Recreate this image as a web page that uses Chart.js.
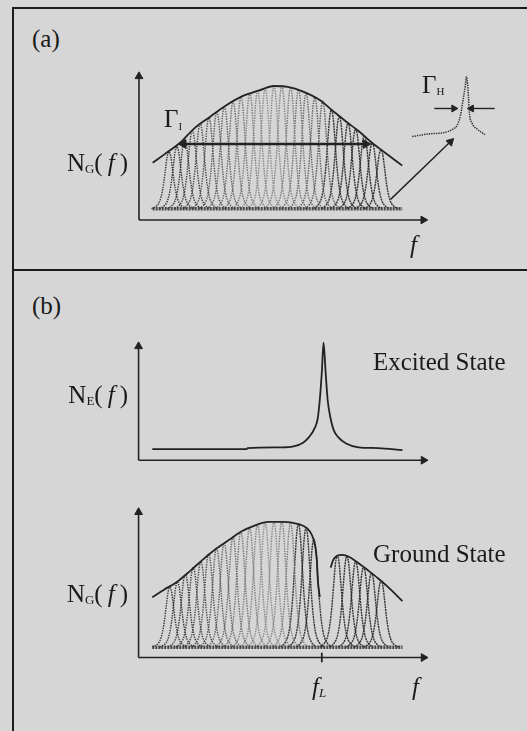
<!DOCTYPE html>
<html>
<head>
<meta charset="utf-8">
<script src="https://cdn.jsdelivr.net/npm/chart.js@4.4.1/dist/chart.umd.min.js"></script>
<style>
body { margin: 0; width: 527px; height: 731px; overflow: hidden; position: relative;
       background: #d6d6d6; font-family: "Liberation Serif", "Times New Roman", serif; color: #1a1a1a; }
canvas { position: absolute; }
.t { position: absolute; font-size: 25px; line-height: 1; white-space: nowrap; }
.sub { font-size: 13px; position: relative; top: 2px; }
.rule { position: absolute; background: #1c1c1c; }
</style>
</head>
<body>
<div class="rule" style="left:12px;top:7px;width:2px;height:724px"></div>
<div class="rule" style="left:12px;top:7px;width:515px;height:2px"></div>
<div class="rule" style="left:12px;top:269px;width:515px;height:2px"></div>

<canvas id="chartA"></canvas>
<canvas id="chartExc"></canvas>
<canvas id="chartGnd"></canvas>

<div class="t" style="left:32px;top:26px">(a)</div>
<div class="t" style="right:399px;top:150px">N<span class="sub">G</span>(&thinsp;<i>f</i>&thinsp;)</div>
<div class="t" style="left:164px;top:106px">Γ<span class="sub" style="font-size:11px;top:3px">I</span></div>
<div class="t" style="left:422px;top:72px">Γ<span class="sub" style="font-size:11px;top:2px">H</span></div>
<div class="t" style="left:410px;top:232px"><i>f</i></div>

<div class="t" style="left:32px;top:293px">(b)</div>
<div class="t" style="right:399px;top:382px">N<span class="sub">E</span>(&thinsp;<i>f</i>&thinsp;)</div>
<div class="t" style="left:373px;top:349px">Excited State</div>
<div class="t" style="right:399px;top:581px">N<span class="sub">G</span>(&thinsp;<i>f</i>&thinsp;)</div>
<div class="t" style="left:373px;top:541px">Ground State</div>
<div class="t" style="left:312px;top:674px"><i>f</i><span class="sub" style="font-style:italic">L</span></div>
<div class="t" style="left:412px;top:674px"><i>f</i></div>

<script>
// (a) inhomogeneous envelope N_G(f)
const envA_f = [4.7, 8.7, 14.3, 18.7, 24.3, 29.7, 35.3, 41, 46.3, 51, 56.3, 62, 66.3, 71, 75.3, 79.7, 84.3, 90.3];
const envA_n = [38.6, 44.3, 52.5, 61.4, 69.6, 77.2, 83.5, 87.3, 90.5, 89.9, 86.7, 81, 74, 66.5, 60.1, 52.5, 45.6, 36.7];
const baseA = 7.6;

// (a) homogeneous packets: centre frequency and peak height
const peakA_f = [10.3, 13, 15.7, 18.3, 21, 24, 26.7, 29.3, 32.3, 35, 38, 40.7, 43.3, 46.3, 49, 52, 54.7, 57.3, 60.3, 63, 66, 68.7, 71.7, 74.3, 77.3, 80, 83];
const peakA_n = [46, 49.5, 54.5, 60.5, 65, 69, 73, 76.5, 80, 83, 85.5, 87, 88.8, 90.3, 90.3, 89.6, 88, 85.8, 82.7, 80, 74.5, 70, 65.5, 61.5, 57, 52, 47.5];

// single homogeneous line shape (offset in f, fraction of height)
const lineOffset = [-6, -4.5, -3.6, -3, -2.4, -1.8, -1.2, -0.6, 0, 0.6, 1.2, 1.8, 2.4, 3, 3.6, 4.5, 6];
const lineShape  = [0, 0.04, 0.09, 0.16, 0.28, 0.46, 0.7, 0.92, 1, 0.92, 0.7, 0.46, 0.28, 0.16, 0.09, 0.04, 0];

// (a) enlarged single line (inset)
const insetF = [93.7, 99.7, 104.3, 107.7, 109.3, 110.3, 111, 112, 112.3, 112.7, 113, 113.3, 114.3, 116, 117.7, 118.7];
const insetN = [56.3, 58.2, 58.9, 61.4, 64.6, 70.9, 79.1, 91.8, 96.8, 91.8, 83.5, 72.8, 65.2, 61.4, 58.9, 57.6];

// (b) excited state N_E(f)
const excF = [4.7, 37, 37.3, 48.7, 53, 56.3, 58.3, 60.3, 61.3, 62, 62.7, 63.3, 64, 64.7, 65.7, 66.7, 68.3, 71, 75.3, 82, 90.3];
const excN = [9.4, 9.4, 10.2, 10.9, 11.7, 14.8, 19.5, 27.3, 35.2, 50.8, 74.2, 99.2, 74.2, 50.8, 35.2, 25.8, 19.5, 14.1, 10.9, 10.2, 8.6];

// (b) ground state with hole at f_L
const gndL_f = [4.7, 8.7, 13, 17.7, 22, 26.3, 31, 35.3, 39.7, 44.3, 49.7, 54.3, 57.7, 59.3, 60.3, 61, 61.3, 62];
const gndL_n = [40.3, 45.3, 50.3, 57.9, 65.4, 72.3, 78.6, 84.3, 88.1, 90.6, 90.6, 89.3, 86.2, 81.8, 75.5, 65.4, 52.8, 40.3];
const gndR_f = [65.7, 66.7, 68, 69.7, 72, 75.3, 78.7, 82, 85.3, 90.3];
const gndR_n = [60, 65.5, 68, 68.6, 67.3, 62.9, 57.9, 52.8, 47.2, 37.7];
const baseG = 6.9;
const peakG_f = [10.7, 13.3, 16, 18.7, 21.3, 24, 26.7, 29.3, 32.3, 35, 38, 40.7, 43.3, 46.3, 49, 52, 54.7, 57.3, 60,
                 68, 71.3, 74.3, 77, 79.7, 83];
const peakG_n = [47, 50.5, 55.5, 60, 64, 69, 73, 76.5, 80.5, 84, 86.8, 88.7, 90.2, 90.7, 90.7, 90, 89, 86.5, 79,
                 68.2, 67.6, 64.2, 60.4, 56.5, 51.3];
const fLaser = 62.7;

const ink = '#222';

function pts(fs, ns) {
    return fs.map((f, i) => ({ x: f, y: ns[i] }));
}

function curve(fs, ns, color, width, dash) {
    return {
        data: pts(fs, ns), borderColor: color, borderWidth: width, borderDash: dash || [],
        pointRadius: 0, fill: false, cubicInterpolationMode: 'monotone', clip: false
    };
}

// straight line with a triangle head on chosen ends
function arrow(fs, ns, width, radii, rots) {
    return {
        data: pts(fs, ns), borderColor: ink, borderWidth: width, fill: false, clip: false,
        pointStyle: 'triangle', pointRadius: radii, pointRotation: rots,
        pointBackgroundColor: ink, pointBorderColor: ink, pointBorderWidth: 1
    };
}

// one dotted line per packet, darker towards the wings
function packets(centers, heights, base, darkFrom) {
    return centers.map((c, i) => {
        const t = Math.min(1, Math.abs(c - 44) / 30);
        const g = Math.round(140 - 95 * t);
        const dark = darkFrom !== undefined && c >= darkFrom;
        return {
            data: lineOffset.map((o, j) => ({ x: c + o, y: base + (heights[i] - base) * lineShape[j] })),
            borderColor: dark ? 'rgba(35,35,35,0.9)' : `rgba(${g},${g},${g},0.95)`,
            borderWidth: 1.4, borderDash: dark ? [2, 0.7] : [1.4, 1.1],
            pointRadius: 0, fill: false, cubicInterpolationMode: 'monotone', clip: false
        };
    });
}

function axes(xEnd, yEnd) {
    return [
        arrow([0, 0], [0, yEnd], 1.6, [0, 4.5], [0, 0]),
        arrow([0, xEnd], [0, 0], 1.6, [0, 4.5], [0, 90])
    ];
}

function makeChart(id, box, origin, k, datasets) {
    const cv = document.getElementById(id);
    cv.width = box.w;
    cv.height = box.h;
    cv.style.left = box.x + 'px';
    cv.style.top = box.y + 'px';
    return new Chart(cv, {
        type: 'line',
        data: { datasets },
        options: {
            responsive: false,
            animation: false,
            devicePixelRatio: 1,
            events: [],
            layout: { padding: 0 },
            plugins: { legend: { display: false }, tooltip: { enabled: false } },
            scales: {
                x: { type: 'linear', display: false,
                     min: (box.x - origin.x) / k.x, max: (box.x + box.w - origin.x) / k.x },
                y: { type: 'linear', display: false,
                     min: (origin.y - box.y - box.h) / k.y, max: (origin.y - box.y) / k.y }
            }
        }
    });
}

// Panel (a)
makeChart('chartA', { x: 98, y: 50, w: 426, h: 190 }, { x: 134, y: 225 }, { x: 3, y: 1.58 }, [
    ...axes(97.5, 97),
    curve(envA_f, envA_n, ink, 1.8),
    arrow([15.2, 77.8], [51.3, 51.3], 2.4, [5, 5], [-90, 90]),
    curve(insetF, insetN, '#333', 1.5, [1.4, 1]),
    arrow([101.3, 108], [75.3, 75.3], 1.4, [0, 4], [0, 90]),
    arrow([122, 114], [75.3, 75.3], 1.4, [0, 4], [0, -90]),
    arrow([86.3, 106.8], [13.9, 52.8], 1.4, [0, 4.5], [0, 45]),
    curve([envA_f[0], envA_f[envA_f.length - 1]], [baseA, baseA], 'rgba(55,55,55,0.9)', 3.4, [2, 1]),
    ...packets(peakA_f, peakA_n, baseA, 65)
]);

// Panel (b) excited state
makeChart('chartExc', { x: 98, y: 325, w: 426, h: 150 }, { x: 134, y: 465 }, { x: 3, y: 1.28 }, [
    ...axes(97.5, 96),
    curve(excF, excN, ink, 1.8)
]);

// Panel (b) ground state
makeChart('chartGnd', { x: 98, y: 490, w: 426, h: 190 }, { x: 134, y: 662 }, { x: 3, y: 1.59 }, [
    ...axes(97.5, 97),
    curve([fLaser, fLaser], [-3.2, 3.2], ink, 1.8),
    curve(gndL_f, gndL_n, ink, 1.8),
    curve(gndR_f, gndR_n, ink, 1.8),
    curve([gndL_f[0], gndR_f[gndR_f.length - 1]], [baseG, baseG], 'rgba(55,55,55,0.9)', 3.4, [2, 1]),
    ...packets(peakG_f, peakG_n, baseG, 53)
]);
</script>
</body>
</html>
